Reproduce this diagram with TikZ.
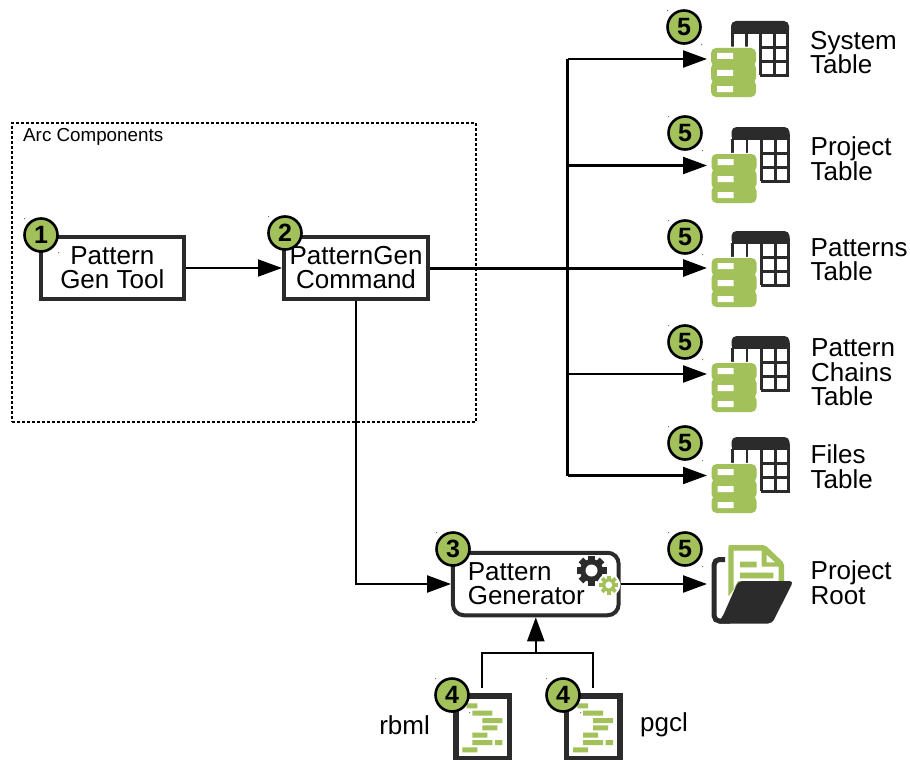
\documentclass[tikz,border=0pt]{standalone}
\usepackage{fontspec}
\setmainfont{Liberation Sans}
\usetikzlibrary{arrows.meta}
\definecolor{leaf}{HTML}{A2C15A}
\definecolor{ink}{HTML}{2B2B2B}
\tikzset{
  x=1pt,y=-1pt,
  wire/.style={draw=black,line width=2.3pt},
  thinwire/.style={draw=black,line width=1.9pt},
  heavywire/.style={draw=black,line width=3pt},
  tip/.style={-{Triangle[length=24pt,width=17pt]}},
  block/.style={draw=ink,line width=4pt,fill=white,inner sep=0pt,align=center,minimum height=62.5pt,font=\fontsize{26}{24.5}\selectfont},
  badge/.style={circle,draw=black,line width=2.6pt,fill=leaf,minimum size=33pt,inner sep=0pt,font=\fontsize{25}{25}\bfseries\selectfont},
  label/.style={inner sep=0pt,align=left,font=\fontsize{26}{24.5}\selectfont},
  pics/tableicon/.style={code={
    \fill[ink,rounded corners=5pt] (0,0) rectangle (58,14);
    \fill[ink] (0,7) rectangle (58,13);
    \fill[white] (1,13) rectangle (57,54);
    \draw[ink,line width=2.8pt] (1.3,12) -- (1.3,30) (15.5,12) -- (15.5,30) (29.6,12) -- (29.6,54.3) (43.8,12) -- (43.8,54.3) (56.6,12) -- (56.6,55.7)
      (29,26.8) -- (58,26.8) (29,40.2) -- (58,40.2) (29,54.3) -- (58,54.3);
    \foreach \ya/\yb in {27/44,43/60,60/76}{
      \draw[white,line width=2.5pt,rounded corners=5pt] (-20,\ya) rectangle (25,\yb);
    }
    \foreach \ya/\yb in {27/45,42/62,59/76}{
      \fill[leaf,rounded corners=5pt] (-20,\ya) rectangle (25,\yb);
    }
    \fill[white] (-14,32) rectangle (2,38) (-14,49) rectangle (2,55) (-14,65) rectangle (2,71);
  }},
  pics/docicon/.style={code={
    \draw[ink,line width=5.2pt,fill=white] (2.6,2.6) rectangle (56,65);
    \fill[leaf] (13.3,10) rectangle (24,15) (19,17.3) rectangle (39,22.3) (29,24.7) rectangle (49,29.7)
      (29,32) rectangle (44,37) (19,39.3) rectangle (34,44.3) (19,46.7) rectangle (39,51.7)
      (41.7,46.7) rectangle (49,51.7) (9,54) rectangle (24,59);
  }},
  pics/gearicon/.style={code={
    \foreach \a in {0,45,...,315}{
      \fill[rotate=\a,pic actions] (-3.2,-1) rectangle (3.2,-1*\gearR);
    }
    \fill[pic actions] (0,0) circle (\gearB);
    \fill[white] (0,0) circle (\gearH);
  }}
}
\newcommand{\gearR}{15}
\newcommand{\gearB}{11.5}
\newcommand{\gearH}{6}
\newcommand{\badgeat}[4]{%
  \fill[black!55] (#2-17,#3-17) rectangle +(1.2,1.2) (#2+17,#3+17) rectangle +(1.2,1.2);
  \node[badge] (#1) at (#2,#3) {#4};}
\begin{document}
\begin{tikzpicture}
\useasboundingbox (0,0) rectangle (910,760);
\fill[white] (0,0) rectangle (910,760);
% container
\node[draw=black,line width=1.4pt,densely dashed,minimum width=464pt,minimum height=299pt,inner sep=0pt] (arc) at (244,272.5) {};
\node[anchor=west,inner sep=0pt,font=\fontsize{18.8}{20}\selectfont] (arclabel) at (23,136.5) {Arc Components};
% blocks
\node[block,minimum width=143.5pt] (gentool) at (112.3,268) {\raisebox{0.8pt}{Pattern}\\\raisebox{0.8pt}{Gen Tool}};
\node[block,minimum width=144pt] (cmd) at (356,268) {\raisebox{0.8pt}{PatternGen}\\\raisebox{0.8pt}{Command}};
\node[block,minimum width=165.7pt,minimum height=62.5pt,rounded corners=11pt,text width=152pt,align=left,inner sep=0pt] (gen) at (535.8,584) {\hspace*{8pt}\raisebox{0.8pt}{Pattern}\\\hspace*{8pt}\raisebox{0.8pt}{Generator}};
% icon anchor coordinates
\coordinate (t1) at (707,59);
\coordinate (t2) at (707,165.5);
\coordinate (t3) at (707,268);
\coordinate (t4) at (707,374);
\coordinate (t5) at (707,475.5);
\coordinate (root) at (707,584);
\coordinate (j1) at (567.5,59);
\coordinate (j2) at (567.5,165.5);
\coordinate (j4) at (567.5,374);
\coordinate (j5) at (567.5,475.5);
\coordinate (elbow) at (356,584);
\coordinate (ga) at (451,584);
\coordinate (merge) at (535.8,653);
\coordinate (m1) at (482,653);
\coordinate (m2) at (593,653);
\coordinate (d1) at (482,688);
\coordinate (d2) at (593,688);
% connectors
\draw[thinwire,tip] (gentool.east) -- (cmd.west);
\draw[heavywire,tip] (cmd.east) -- (t3);
\draw[wire] (j1) -- (j5);
\draw[wire,tip] (j1) -- (t1);
\draw[wire,tip] (j2) -- (t2);
\draw[wire,tip] (j4) -- (t4);
\draw[wire,tip] (j5) -- (t5);
\draw[wire,tip] (cmd.south) -- (elbow) -- (ga);
\draw[wire,tip] (gen.east) -- (root);
\draw[wire,tip] (merge) -- (gen.south);
\draw[wire] (d1) -- (m1) -- (m2) -- (d2);
% tables
\pic at (731,21) {tableicon};
\pic at (731.5,127) {tableicon};
\pic at (731.5,231) {tableicon};
\pic at (731.5,336) {tableicon};
\pic at (731.5,437) {tableicon};
% gears
\pic[ink] at (591.5,570.5) {gearicon};
\begin{scope}[shift={(608.8,585)}]
  \fill[white] (0,0) circle (11.5);
  \foreach \a in {0,45,...,315}{\fill[leaf,rotate=\a] (-1.9,-1) rectangle (1.9,-9.5);}
  \fill[leaf] (0,0) circle (6.8);
  \fill[white] (0,0) circle (3.4);
\end{scope}
% folder
\fill[leaf,rounded corners=2pt] (728.3,545) -- (765,545) -- (784,563) -- (784,583) -- (738,583) -- (728.3,597) -- cycle;
\fill[white] (733.5,550.5) -- (761.5,550.5) -- (761.5,566.7) -- (778.5,566.7) -- (778.5,581) -- (738,581) -- (733.5,589) -- cycle;
\fill[white] (766.7,555) -- (775,562.3) -- (766.7,562.3) -- cycle;
\fill[leaf] (740,561.7) rectangle (756.7,567.3) (740,572.7) rectangle (773.3,578.3);
\draw[ink,line width=5pt,rounded corners=5pt] (725,559.5) -- (714.2,559.5) -- (714.2,621) -- (730,621);
\fill[ink,rounded corners=4pt] (738.3,581) -- (793.5,581) -- (772,623.5) -- (716,623.5) -- (722,618) -- cycle;
% docs
\pic at (453.3,693.3) {docicon};
\pic at (564,693.3) {docicon};
% badges
\badgeat{b1}{41}{235}{1}
\badgeat{b2}{285}{233}{2}
\badgeat{b3}{453}{549}{3}
\badgeat{b4a}{452}{695}{4}
\badgeat{b4b}{563}{695}{4}
\badgeat{b5a}{684}{27}{5}
\badgeat{b5b}{685}{133}{5}
\badgeat{b5c}{685}{237}{5}
\badgeat{b5d}{685}{342}{5}
\badgeat{b5e}{685}{443}{5}
\badgeat{b5f}{685}{549}{5}
% labels
\node[label,anchor=west] (l1) at (810,52.5) {System\\Table};
\node[label,anchor=west] (l2) at (810.5,158.5) {Project\\Table};
\node[label,anchor=west] (l3) at (810.5,259.5) {Patterns\\Table};
\node[label,anchor=west] (l4) at (811,372.5) {Pattern\\Chains\\Table};
\node[label,anchor=west] (l5) at (810.5,466.5) {Files\\Table};
\node[label,anchor=west] (l6) at (810.5,582.5) {Project\\Root};
\node[label,anchor=east] (l7) at (430,725) {rbml};
\node[label,anchor=west] (l8) at (640,725) {pgcl};
\end{tikzpicture}
\end{document}
